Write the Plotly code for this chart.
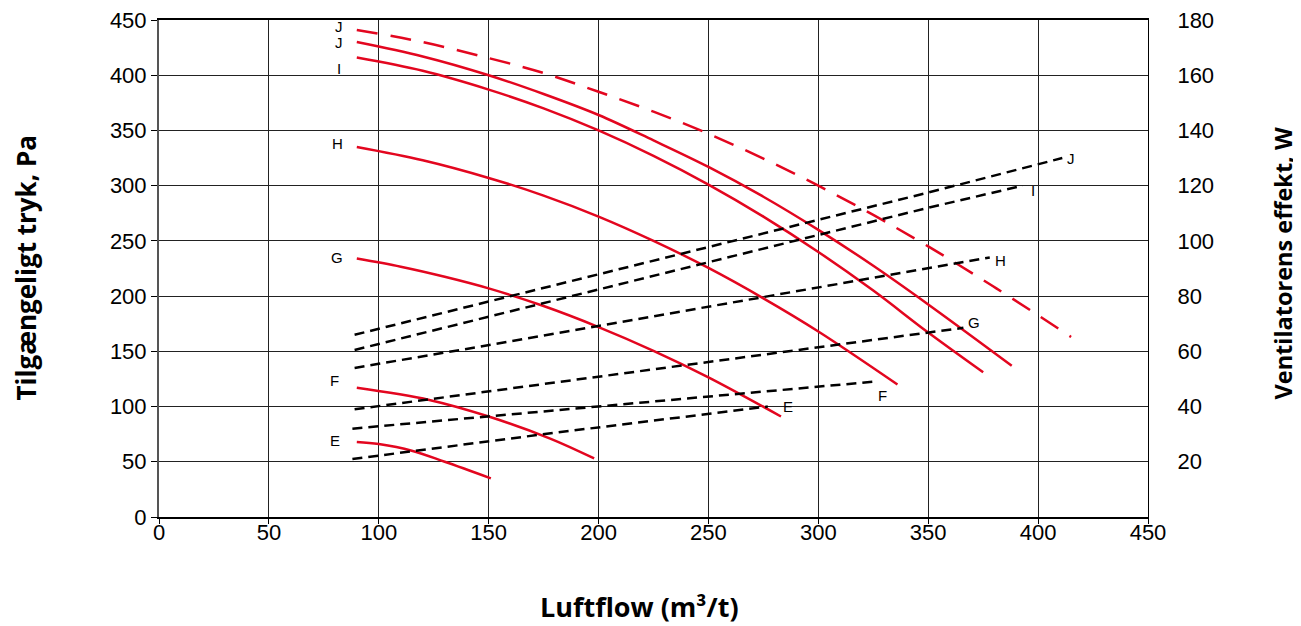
import plotly.graph_objects as go

# ---- pressure curves (left axis, Pa) ----
E_x = [90, 100, 115, 130, 151]
E_p = [68, 66, 60, 50, 35]
F_x = [90, 123, 150, 178, 198]
F_p = [117, 106, 91, 71, 53]
G_x = [90, 110, 130, 150, 175, 200, 225, 250, 283]
G_p = [234, 226.6, 217.5, 207, 191, 172, 150.5, 126.5, 91]
H_x = [90, 120, 150, 175, 200, 225, 250, 275, 300, 336]
H_p = [335, 323, 307, 291, 272, 250, 225.5, 198, 168, 120]
I_x = [90, 120, 150, 175, 200, 225, 250, 275, 300, 325, 350, 375]
I_p = [416, 404, 387, 370, 350, 327, 301, 272, 240, 205, 167, 131]
J_x = [90, 120, 150, 175, 200, 225, 250, 275, 300, 325, 350, 388]
J_p = [430, 417, 400, 383, 364, 341, 317, 290, 260, 227.5, 192.5, 137]
Jd_x = [90, 120, 150, 175, 200, 225, 250, 275, 300, 325, 350, 381, 415]
Jd_p = [441, 430, 415.5, 402, 385, 367, 347, 324.5, 300, 273.5, 245, 207, 163]

# ---- fan power lines (right axis, W) ----
E_wx = [88, 180, 277]
E_w = [21, 30.5, 40]
F_wx = [88, 200, 325]
F_w = [32, 40, 49]
G_wx = [89, 230, 366]
G_w = [39, 54, 68.5]
H_wx = [89, 146, 378]
H_w = [54, 61.7, 94]
I_wx = [89, 350, 393]
I_w = [60.5, 112, 120]
J_wx = [89, 350, 411]
J_w = [66, 117.5, 130]

x_ticks = [0, 50, 100, 150, 200, 250, 300, 350, 400, 450]
y_ticks = [0, 50, 100, 150, 200, 250, 300, 350, 400, 450]
y2_ticks = [20, 40, 60, 80, 100, 120, 140, 160, 180]

RED = "#E3061F"
FONT = "Liberation Sans, Arial, sans-serif"

fig = go.Figure()

for xs, ys in [(E_x, E_p), (F_x, F_p), (G_x, G_p), (H_x, H_p), (I_x, I_p), (J_x, J_p)]:
    fig.add_trace(go.Scatter(x=xs, y=ys, mode="lines", line=dict(color=RED, width=2.5, shape="spline"),
                             showlegend=False, hoverinfo="skip"))
fig.add_trace(go.Scatter(x=Jd_x, y=Jd_p, mode="lines",
                         line=dict(color=RED, width=2.5, shape="spline", dash="21px,13px"),
                         showlegend=False, hoverinfo="skip"))

for xs, ys in [(E_wx, E_w), (F_wx, F_w), (G_wx, G_w), (H_wx, H_w), (I_wx, I_w), (J_wx, J_w)]:
    fig.add_trace(go.Scatter(x=xs, y=ys, mode="lines", yaxis="y2",
                             line=dict(color="black", width=2.5, dash="10px,6px"),
                             showlegend=False, hoverinfo="skip"))

lab_font = dict(family=FONT, size=15, color="black")
labels = [
    (82, 444, "J"), (82, 430, "J"), (82, 406, "I"), (81, 338, "H"), (81, 235, "G"),
    (80, 124, "F"), (80, 69, "E"),
    (415, 325, "J"), (397.5, 296, "I"), (383, 232, "H"), (371, 176, "G"),
    (329, 110, "F"), (286, 100, "E"),
]
annotations = [dict(x=x, y=y, xref="x", yref="y", text=t, showarrow=False, font=lab_font,
                    xanchor="center", yanchor="middle") for x, y, t in labels]

title_font = dict(family="Open Sans, sans-serif", size=27, color="black")
ltitle_font = dict(family="Open Sans, sans-serif", size=26, color="black")
rtitle_font = dict(family="Open Sans, sans-serif", size=23.5, color="black")
annotations += [
    dict(x=0.486, y=-0.181, xref="paper", yref="paper", text="<b>Luftflow (m³/t)</b>",
         showarrow=False, font=title_font, xanchor="center", yanchor="middle"),
    dict(x=-0.134, y=0.501, xref="paper", yref="paper", text="<b>Tilgængeligt tryk, Pa</b>",
         showarrow=False, font=ltitle_font, textangle=-90, xanchor="center", yanchor="middle"),
    dict(x=1.1365, y=0.51, xref="paper", yref="paper", text="<b>Ventilatorens effekt, W</b>",
         showarrow=False, font=rtitle_font, textangle=-90, xanchor="center", yanchor="middle"),
]

tick_font = dict(family=FONT, size=22, color="black")
fig.update_layout(
    width=1293, height=618,
    margin=dict(l=151, r=153, t=12, b=109, autoexpand=False),
    plot_bgcolor="white", paper_bgcolor="white",
    annotations=annotations,
    xaxis=dict(range=[0, 450], tickvals=x_ticks, showgrid=True, gridcolor="#222", gridwidth=1,
               showline=True, linecolor="black", linewidth=2, mirror=True, automargin=False,
               ticks="outside", ticklen=5, tickcolor="black", tickfont=tick_font, zeroline=False,
               ticklabelstandoff=-10, ticklabeloverflow="allow"),
    yaxis=dict(range=[0, 450], tickvals=y_ticks, showgrid=True, gridcolor="#222", gridwidth=1,
               showline=True, linecolor="#555", linewidth=2, automargin=False,
               ticks="outside", ticklen=6, tickcolor="black", tickfont=tick_font, zeroline=False,
               ticklabeloverflow="allow"),
    yaxis2=dict(range=[0, 180], tickvals=y2_ticks, overlaying="y", side="right", showgrid=False,
                showline=True, linecolor="black", linewidth=1, ticks="", automargin=False,
                tickfont=tick_font, zeroline=False, ticklabelstandoff=24,
                ticklabeloverflow="allow"),
)

fig.write_html("out.html")
